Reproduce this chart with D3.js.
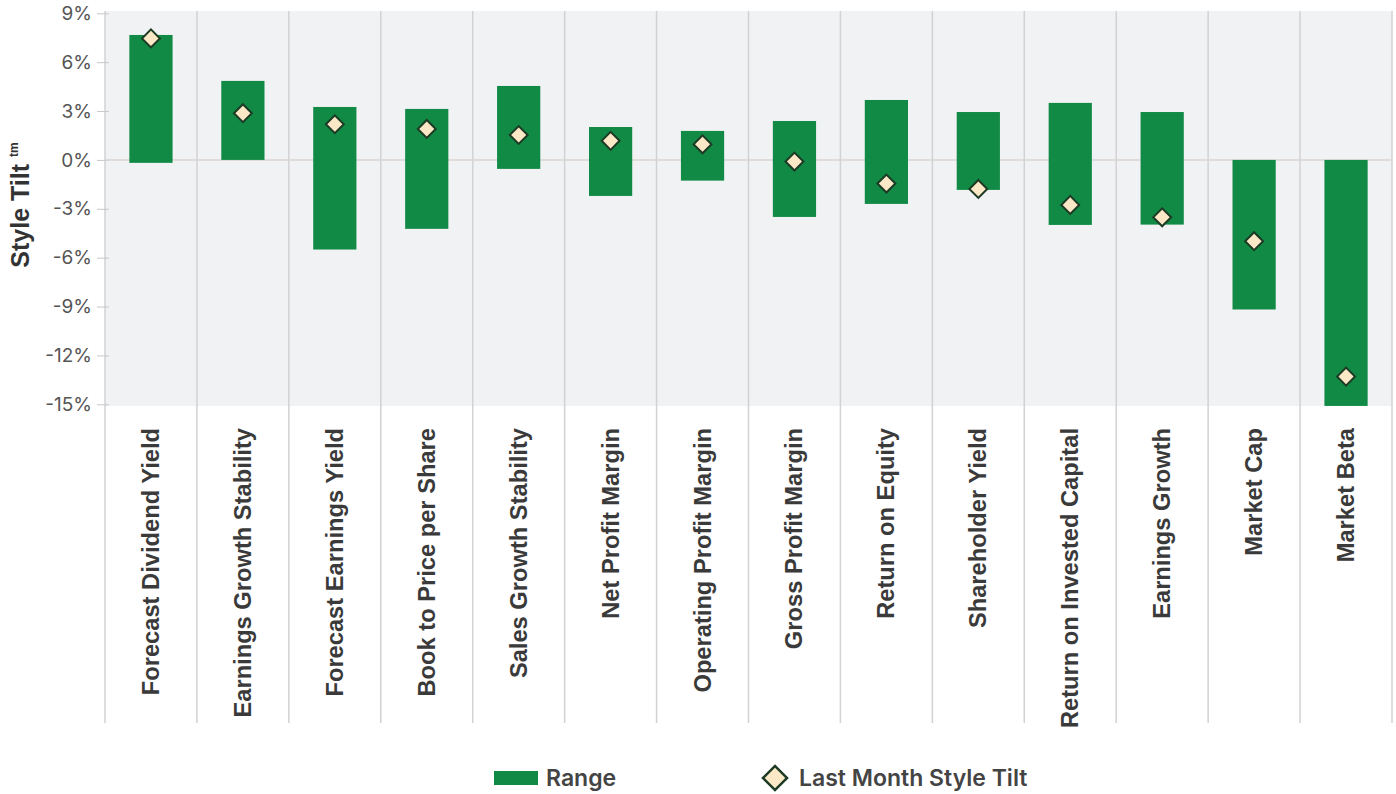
<!DOCTYPE html>
<html>
<head>
<meta charset="utf-8">
<script src="https://cdn.jsdelivr.net/npm/d3@7"></script>
<style>
  body { margin: 0; background: #fff; }
  svg { display: block; }
</style>
</head>
<body>
<div id="chart"></div>
<script>
// style tilt ranges and last month values (in %)
const categories = ['Forecast Dividend Yield', 'Earnings Growth Stability', 'Forecast Earnings Yield',
  'Book to Price per Share', 'Sales Growth Stability', 'Net Profit Margin', 'Operating Profit Margin',
  'Gross Profit Margin', 'Return on Equity', 'Shareholder Yield', 'Return on Invested Capital',
  'Earnings Growth', 'Market Cap', 'Market Beta'];
const rangeHigh = [7.67, 4.85, 3.25, 3.13, 4.54, 2.02, 1.78, 2.39, 3.68, 2.94, 3.5, 2.94, 0, 0];
const rangeLow = [-0.18, 0, -5.5, -4.23, -0.55, -2.21, -1.27, -3.5, -2.7, -1.84, -3.99, -3.97, -9.18, -15.1];
const lastMonth = [7.46, 2.87, 2.19, 1.9, 1.53, 1.17, 0.96, -0.1, -1.45, -1.78, -2.76, -3.52, -4.99, -13.3];
const yTicks = [9, 6, 3, 0, -3, -6, -9, -12, -15];

const W = 1396, H = 794;
const plotLeft = 105, plotRight = 1392, plotTop = 11, plotBottom = 406, gridBottom = 723;
const barColor = '#118a45';

const svg = d3.select('#chart').append('svg').attr('width', W).attr('height', H);

const x = d3.scaleBand().domain(categories).range([plotLeft, plotRight]).paddingInner(0).paddingOuter(0);
const y = d3.scaleLinear().domain([-15, 9]).range([404.3, 13.3]);

// plot background
svg.append('rect')
  .attr('x', plotLeft).attr('y', plotTop)
  .attr('width', plotRight - plotLeft).attr('height', plotBottom - plotTop)
  .attr('fill', '#f1f2f4');

// vertical separators
const bounds = categories.map(c => x(c)).concat([plotRight]);
svg.append('g').selectAll('line').data(bounds).enter().append('line')
  .attr('x1', d => d).attr('x2', d => d)
  .attr('y1', plotTop).attr('y2', gridBottom)
  .attr('stroke', '#d2d2d4').attr('stroke-width', 1.5);

// y axis
const yAxis = svg.append('g')
  .attr('transform', `translate(${plotLeft + 4},0)`)
  .call(d3.axisLeft(y).tickValues(yTicks).tickFormat(d => `${d}%`).tickSize(12).tickPadding(5));
yAxis.select('.domain').remove();
yAxis.selectAll('.tick line').attr('stroke', '#c8c8c8');
yAxis.selectAll('.tick text')
  .attr('font-family', 'Inter, "Noto Sans", sans-serif')
  .attr('font-size', 19).attr('fill', '#555');

// zero line
svg.append('line')
  .attr('x1', plotLeft).attr('x2', plotRight)
  .attr('y1', y(0)).attr('y2', y(0))
  .attr('stroke', '#d8d5d2').attr('stroke-width', 1.5);

// range bars
const bw = x.bandwidth() * 0.47;
svg.append('g').selectAll('rect').data(categories).enter().append('rect')
  .attr('x', d => x(d) + (x.bandwidth() - bw) / 2)
  .attr('width', bw)
  .attr('y', (d, i) => y(rangeHigh[i]))
  .attr('height', (d, i) => y(rangeLow[i]) - y(rangeHigh[i]))
  .attr('fill', barColor);

// last month markers
const diamond = d3.symbol().type(d3.symbolSquare).size(160);
svg.append('g').selectAll('path').data(categories).enter().append('path')
  .attr('d', diamond)
  .attr('transform', (d, i) => `translate(${x(d) + x.bandwidth() / 2},${y(lastMonth[i])}) rotate(45)`)
  .attr('fill', '#fbe8c6')
  .attr('stroke', '#1c3a24')
  .attr('stroke-width', 2);

// category labels
svg.append('g').selectAll('text').data(categories).enter().append('text')
  .attr('transform', d => `translate(${x(d) + x.bandwidth() / 2 + 8},428) rotate(-90)`)
  .attr('text-anchor', 'end')
  .attr('font-family', '"Liberation Sans", Arial, sans-serif')
  .attr('font-weight', 'bold')
  .attr('font-size', 23.7)
  .attr('fill', '#3a3a3a')
  .text(d => d);

// y title
const title = svg.append('text')
  .attr('transform', 'translate(29,205) rotate(-90)')
  .attr('text-anchor', 'middle')
  .attr('font-family', '"Liberation Sans", Arial, sans-serif')
  .attr('font-weight', 'bold')
  .attr('font-size', 25)
  .attr('fill', '#333');
title.append('tspan').text('Style Tilt ');
title.append('tspan').attr('font-size', 12).attr('dy', -11).text('tm');

// legend
const legend = svg.append('g')
  .attr('font-family', 'Inter, "Noto Sans", sans-serif')
  .attr('font-weight', 600)
  .attr('font-size', 23)
  .attr('fill', '#444');
legend.append('rect')
  .attr('x', 494).attr('y', 771).attr('width', 44).attr('height', 14)
  .attr('fill', barColor);
legend.append('text').attr('x', 546).attr('y', 786).text('Range');
legend.append('path')
  .attr('d', d3.symbol().type(d3.symbolSquare).size(290))
  .attr('transform', 'translate(775,778) rotate(45)')
  .attr('fill', '#fbe8c6').attr('stroke', '#1c3a24').attr('stroke-width', 2.5);
legend.append('text').attr('x', 799).attr('y', 786).text('Last Month Style Tilt');
</script>
</body>
</html>
